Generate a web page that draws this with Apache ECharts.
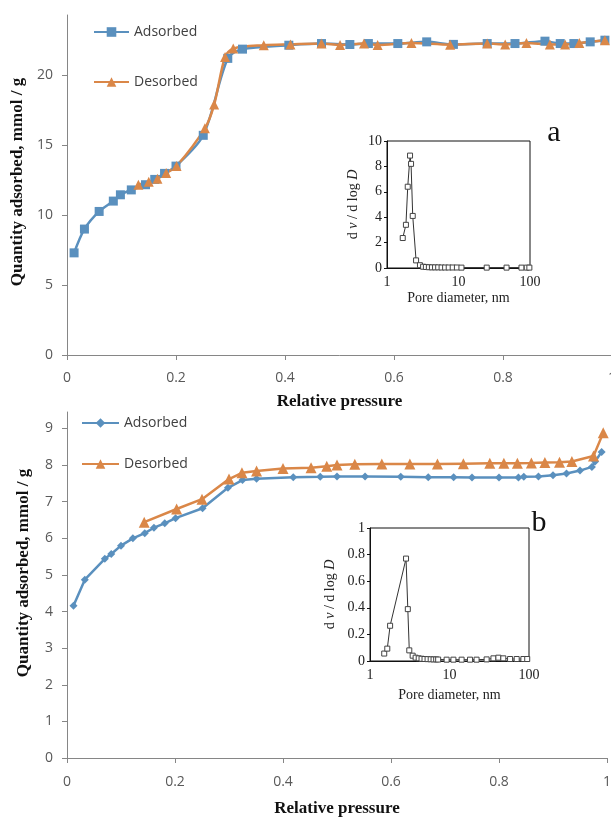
<!DOCTYPE html>
<html>
<head>
<meta charset="utf-8">
<title>Adsorption isotherms</title>
<script src="https://cdn.jsdelivr.net/npm/echarts@6.0.0/dist/echarts.min.js"></script>
<style>
  html, body { margin: 0; padding: 0; background: #fff; }
  #chart { width: 611px; height: 821px; }
</style>
</head>
<body>
<div id="chart"></div>
<script>
// panel a - isotherm
var adsA_p = [0.013, 0.032, 0.059, 0.085, 0.098, 0.118, 0.144, 0.161, 0.179, 0.2, 0.25, 0.295, 0.322, 0.407, 0.467, 0.519, 0.553, 0.607, 0.66, 0.709, 0.771, 0.822, 0.877, 0.905, 0.93, 0.96, 0.987];
var adsA_q = [7.3, 9.0, 10.26, 11.0, 11.45, 11.8, 12.17, 12.55, 12.98, 13.5, 15.7, 21.2, 21.86, 22.14, 22.26, 22.19, 22.26, 22.26, 22.38, 22.2, 22.26, 22.26, 22.43, 22.26, 22.26, 22.38, 22.5];
var desA_p = [0.131, 0.15, 0.166, 0.182, 0.201, 0.253, 0.27, 0.29, 0.305, 0.361, 0.41, 0.467, 0.501, 0.545, 0.57, 0.632, 0.703, 0.771, 0.804, 0.843, 0.886, 0.914, 0.94, 0.987];
var desA_q = [12.17, 12.38, 12.6, 13.0, 13.5, 16.2, 17.9, 21.3, 21.9, 22.14, 22.2, 22.26, 22.15, 22.26, 22.15, 22.3, 22.18, 22.26, 22.2, 22.3, 22.2, 22.2, 22.3, 22.5];

// panel a - pore size distribution (inset)
var psdA_d = [1.66, 1.84, 1.95, 2.1, 2.17, 2.29, 2.55, 2.89, 3.2, 3.5, 3.85, 4.25, 4.7, 5.2, 5.8, 6.5, 7.3, 8.3, 9.5, 11, 24.8, 47, 76, 90, 98];
var psdA_v = [2.36, 3.4, 6.4, 8.85, 8.2, 4.1, 0.6, 0.22, 0.1, 0.08, 0.06, 0.05, 0.05, 0.05, 0.04, 0.04, 0.04, 0.04, 0.04, 0.03, 0.03, 0.03, 0.03, 0.03, 0.03];

// panel b - isotherm
var adsB_p = [0.012, 0.033, 0.07, 0.082, 0.1, 0.122, 0.144, 0.161, 0.181, 0.201, 0.251, 0.298, 0.325, 0.351, 0.419, 0.469, 0.5, 0.552, 0.618, 0.669, 0.716, 0.75, 0.8, 0.836, 0.846, 0.873, 0.9, 0.925, 0.95, 0.972, 0.978, 0.99];
var adsB_q = [4.16, 4.87, 5.44, 5.57, 5.8, 6.0, 6.14, 6.29, 6.41, 6.55, 6.82, 7.38, 7.59, 7.63, 7.67, 7.68, 7.69, 7.69, 7.68, 7.67, 7.67, 7.66, 7.66, 7.66, 7.68, 7.69, 7.72, 7.77, 7.85, 7.95, 8.1, 8.36];
var desB_p = [0.143, 0.203, 0.25, 0.3, 0.324, 0.351, 0.4, 0.452, 0.481, 0.5, 0.533, 0.583, 0.635, 0.686, 0.734, 0.783, 0.809, 0.834, 0.86, 0.885, 0.912, 0.935, 0.975, 0.993];
var desB_q = [6.44, 6.8, 7.07, 7.62, 7.79, 7.84, 7.91, 7.93, 7.97, 8.0, 8.02, 8.03, 8.03, 8.03, 8.04, 8.05, 8.05, 8.05, 8.06, 8.07, 8.08, 8.1, 8.25, 8.88];

// panel b - pore size distribution (inset)
var psdB_d = [1.51, 1.65, 1.79, 2.84, 2.99, 3.12, 3.44, 3.75, 4.1, 4.45, 4.85, 5.3, 5.8, 6.3, 6.8, 7.2, 9.2, 11.2, 14.2, 18.1, 21.9, 29.3, 35.7, 41.2, 47.5, 57.8, 70, 85, 95];
var psdB_v = [0.056, 0.093, 0.265, 0.77, 0.39, 0.08, 0.04, 0.025, 0.02, 0.017, 0.015, 0.014, 0.013, 0.012, 0.012, 0.011, 0.01, 0.01, 0.01, 0.01, 0.01, 0.012, 0.02, 0.025, 0.02, 0.015, 0.015, 0.015, 0.015];

// tick labels
var pTicks = [0, 0.2, 0.4, 0.6, 0.8, 1];
var qTicksA = [0, 5, 10, 15, 20];
var qTicksB = [0, 1, 2, 3, 4, 5, 6, 7, 8, 9];

var BLUE = '#5A90BE', ORANGE = '#DA8748';
var SANS = '"Open Sans", "Noto Sans", sans-serif';
var SERIF = '"Liberation Serif", "DejaVu Serif", serif';

function pairs(xs, ys) {
    return xs.map(function (x, i) { return [x, ys[i]]; });
}

function mainX(grid, margin, gap) {
    return {
        type: 'value', gridIndex: grid, min: 0, max: 1,
        axisLabel: { customValues: pTicks, margin: margin, fontFamily: SANS, fontSize: 14, color: '#595959' },
        axisTick: { customValues: pTicks, length: 5, lineStyle: { color: '#868686' } },
        axisLine: { lineStyle: { color: '#868686', width: 1 } },
        splitLine: { show: false },
        name: 'Relative pressure', nameLocation: 'middle', nameGap: gap,
        nameTextStyle: { fontFamily: SERIF, fontWeight: 'bold', fontSize: 17, color: '#111' }
    };
}

// shift: moves the rotated title up along the axis
function mainY(grid, max, ticks, shift) {
    return {
        type: 'value', gridIndex: grid, min: 0, max: max,
        axisLabel: { customValues: ticks, margin: 14, fontFamily: SANS, fontSize: 14, color: '#595959' },
        axisTick: { show: true, customValues: ticks, length: 5, lineStyle: { color: '#868686' } },
        axisLine: { show: true, lineStyle: { color: '#868686', width: 1 } },
        splitLine: { show: false },
        name: 'Quantity adsorbed, mmol / g', nameLocation: 'middle', nameRotate: 90, nameGap: 35,
        nameTextStyle: { fontFamily: SERIF, fontWeight: 'bold', fontSize: 17, color: '#111', padding: [0, 0, 0, shift * 2] }
    };
}

function insetX(grid, gap) {
    return {
        type: 'log', logBase: 10, gridIndex: grid, min: 1, max: 100,
        axisLabel: { margin: 7, fontFamily: SERIF, fontSize: 14, color: '#222' },
        axisTick: { show: false },
        axisLine: { lineStyle: { color: '#111', width: 1 } },
        splitLine: { show: false },
        name: 'Pore diameter, nm', nameLocation: 'middle', nameGap: gap,
        nameTextStyle: { fontFamily: SERIF, fontSize: 14, color: '#222' }
    };
}

function insetY(grid, max, interval, gap) {
    return {
        type: 'value', gridIndex: grid, min: 0, max: max, interval: interval,
        axisLabel: { margin: 5, fontFamily: SERIF, fontSize: 14, color: '#222' },
        axisTick: { show: true, length: 3, lineStyle: { color: '#111' } },
        axisLine: { show: true, lineStyle: { color: '#111', width: 1 } },
        splitLine: { show: false },
        name: 'd {i|v} / d log {i|D}', nameLocation: 'middle', nameRotate: 90, nameGap: gap,
        nameTextStyle: {
            fontFamily: SERIF, fontSize: 14, color: '#222',
            rich: { i: { fontFamily: SERIF, fontSize: 14, fontStyle: 'italic', color: '#222' } }
        }
    };
}

function isoSeries(name, idx, data, color, symbol, size, smooth) {
    return {
        name: name, type: 'line', xAxisIndex: idx, yAxisIndex: idx,
        data: data, smooth: smooth, symbol: symbol, symbolSize: size,
        lineStyle: { color: color, width: 2.5 },
        itemStyle: { color: color },
        animation: false
    };
}

function psdSeries(idx, data) {
    return {
        name: 'psd' + idx, type: 'line', xAxisIndex: idx, yAxisIndex: idx,
        data: data, symbol: 'rect', symbolSize: 5,
        lineStyle: { color: '#333', width: 1 },
        itemStyle: { color: '#fff', borderColor: '#444', borderWidth: 1 },
        animation: false
    };
}

var legendText = { fontFamily: SANS, fontSize: 14, color: '#404040' };

var chart = echarts.init(document.getElementById('chart'));
chart.setOption({
    backgroundColor: '#fff',
    animation: false,
    grid: [
        { left: 67, top: 15, width: 545, height: 340, outerBoundsMode: 'none' },
        { left: 387, top: 141, width: 143, height: 127, show: true, borderColor: '#111', borderWidth: 1, outerBoundsMode: 'none' },
        { left: 67, top: 412, width: 540, height: 346, outerBoundsMode: 'none' },
        { left: 370, top: 528, width: 159, height: 133, show: true, borderColor: '#111', borderWidth: 1, outerBoundsMode: 'none' }
    ],
    xAxis: [mainX(0, 16, 38), insetX(1, 23), mainX(2, 17, 42), insetX(3, 27)],
    yAxis: [mainY(0, 24.3, qTicksA, 3), insetY(1, 10, 2, 27), mainY(2, 9.45, qTicksB, 12), insetY(3, 1, 0.2, 33)],
    legend: [
        {
            left: 93, top: 25, padding: 0, orient: 'vertical', itemWidth: 35, itemHeight: 12, itemGap: 36,
            selectedMode: false, data: ['Adsorbed', 'Desorbed'], textStyle: legendText
        },
        {
            left: 81, top: 416, padding: 0, orient: 'vertical', itemWidth: 37, itemHeight: 12, itemGap: 27,
            selectedMode: false, data: ['Adsorbed b', 'Desorbed b'], textStyle: legendText,
            formatter: function (n) { return n.split(' ')[0]; }
        }
    ],
    series: [
        isoSeries('Adsorbed', 0, pairs(adsA_p, adsA_q), BLUE, 'rect', 9, 0.3),
        isoSeries('Desorbed', 0, pairs(desA_p, desA_q), ORANGE, 'triangle', 10, 0.3),
        psdSeries(1, pairs(psdA_d, psdA_v)),
        isoSeries('Adsorbed b', 2, pairs(adsB_p, adsB_q), BLUE, 'diamond', 8, false),
        isoSeries('Desorbed b', 2, pairs(desB_p, desB_q), ORANGE, 'triangle', 11, false),
        psdSeries(3, pairs(psdB_d, psdB_v))
    ],
    graphic: [
        { type: 'text', x: 554, y: 133, style: { text: 'a', align: 'center', verticalAlign: 'middle', font: '30px ' + SERIF, fill: '#111' } },
        { type: 'text', x: 539, y: 523, style: { text: 'b', align: 'center', verticalAlign: 'middle', font: '30px ' + SERIF, fill: '#111' } }
    ]
});
</script>
</body>
</html>
